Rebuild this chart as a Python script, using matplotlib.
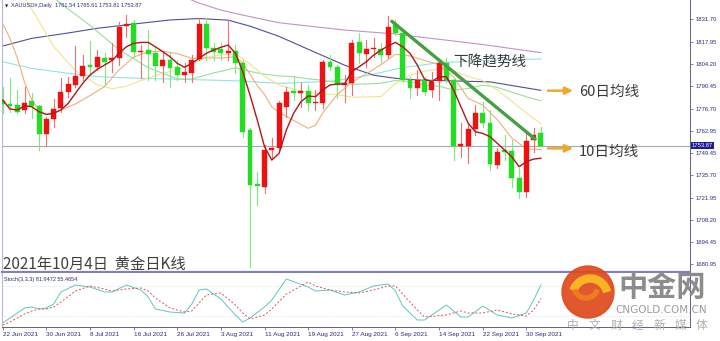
import matplotlib
matplotlib.use('Agg')
import matplotlib.pyplot as plt
import matplotlib.transforms as mtrans
from matplotlib.patches import Rectangle, Circle, Wedge

plt.rcParams['font.family'] = ['Noto Sans CJK SC', 'DejaVu Sans']

# daily bars, 22 Jun 2021 .. 4 Oct 2021 (green = down, red = up)
opens = [1781.4, 1779.0, 1779.0, 1775.9, 1781.2, 1778.4, 1761.1, 1770.2, 1776.9, 1787.2,
         1791.3, 1797.0, 1803.6, 1802.5, 1808.1, 1806.7, 1807.7, 1827.8, 1829.2, 1811.4,
         1812.8, 1810.8, 1803.0, 1806.7, 1802.5, 1797.4, 1798.8, 1807.1, 1828.8, 1813.9,
         1813.2, 1810.8, 1812.2, 1804.6, 1763.6, 1730.2, 1728.7, 1751.3, 1752.3, 1777.9,
         1787.6, 1786.2, 1787.6, 1780.0, 1780.4, 1805.6, 1802.5, 1791.3, 1792.3, 1817.9,
         1810.4, 1813.2, 1813.4, 1809.7, 1828.2, 1823.5, 1794.4, 1789.2, 1794.4, 1788.2,
         1793.9, 1804.6, 1794.4, 1753.7, 1753.7, 1764.0, 1774.2, 1767.7, 1742.0, 1751.3,
         1750.8, 1733.8, 1725.6, 1757.4, 1761.54]
highs = [1790.2, 1795.4, 1788.2, 1790.2, 1786.2, 1779.0, 1771.8, 1782.5, 1795.4, 1796.4,
         1815.3, 1809.7, 1818.5, 1812.8, 1810.8, 1817.3, 1830.2, 1834.4, 1831.3, 1815.9,
         1825.1, 1814.9, 1810.8, 1810.8, 1806.7, 1804.6, 1809.7, 1832.3, 1832.3, 1816.9,
         1816.9, 1831.3, 1815.9, 1806.7, 1764.6, 1738.0, 1754.4, 1758.5, 1781.2, 1790.2,
         1796.4, 1792.3, 1791.3, 1788.2, 1806.7, 1809.7, 1803.6, 1797.4, 1818.9, 1823.1,
         1818.9, 1820.0, 1816.9, 1833.7, 1831.3, 1825.1, 1796.4, 1800.5, 1796.4, 1799.5,
         1806.7, 1807.7, 1795.4, 1767.7, 1767.7, 1778.9, 1781.0, 1775.9, 1752.3, 1760.5,
         1757.4, 1740.0, 1762.5, 1764.6, 1765.61]
lows = [1773.9, 1774.8, 1773.9, 1773.9, 1770.8, 1751.3, 1753.7, 1765.6, 1774.8, 1784.1,
        1790.2, 1794.4, 1797.4, 1800.5, 1791.3, 1799.5, 1803.6, 1821.0, 1808.7, 1795.4,
        1794.4, 1794.4, 1793.3, 1790.2, 1794.4, 1793.3, 1793.3, 1806.7, 1806.7, 1806.7,
        1806.7, 1806.7, 1798.5, 1759.5, 1679.5, 1717.4, 1724.6, 1746.2, 1750.5, 1771.8,
        1782.0, 1778.0, 1775.9, 1775.9, 1776.9, 1800.5, 1783.1, 1781.0, 1785.1, 1804.6,
        1802.5, 1808.7, 1805.6, 1807.7, 1822.0, 1793.3, 1783.1, 1785.1, 1785.1, 1784.1,
        1782.0, 1793.3, 1745.1, 1747.1, 1743.0, 1760.5, 1765.6, 1739.0, 1740.4, 1745.1,
        1728.7, 1721.5, 1722.5, 1750.2, 1753.81]
closes = [1779.6, 1778.4, 1774.8, 1780.4, 1778.4, 1761.1, 1770.2, 1776.3, 1787.2, 1791.9,
          1796.8, 1803.1, 1802.5, 1808.3, 1805.6, 1807.5, 1827.2, 1828.8, 1811.8, 1812.2,
          1810.2, 1803.0, 1806.7, 1801.5, 1797.4, 1799.1, 1806.7, 1828.8, 1813.9, 1811.5,
          1810.8, 1812.2, 1804.6, 1762.5, 1729.7, 1729.1, 1751.3, 1752.4, 1780.0, 1787.2,
          1786.2, 1787.6, 1780.4, 1781.0, 1805.6, 1802.5, 1791.3, 1792.7, 1816.9, 1810.8,
          1813.4, 1814.2, 1809.7, 1827.2, 1823.5, 1794.4, 1789.2, 1794.4, 1787.2, 1793.3,
          1804.6, 1794.4, 1753.7, 1754.7, 1764.0, 1774.2, 1768.1, 1742.7, 1750.2, 1750.3,
          1733.8, 1725.6, 1756.8, 1760.5, 1753.87]

date_labels = ['22 Jun 2021', '30 Jun 2021', '8 Jul 2021', '16 Jul 2021', '26 Jul 2021',
               '3 Aug 2021', '11 Aug 2021', '19 Aug 2021', '27 Aug 2021', '6 Sep 2021',
               '14 Sep 2021', '22 Sep 2021', '30 Sep 2021']
price_ticks = [1831.70, 1817.95, 1804.20, 1790.45, 1776.70, 1762.95, 1749.45,
               1735.70, 1721.95, 1708.20, 1694.45, 1680.95]

# moving averages
ma5 = [1782.0, 1776.5, 1775.9, 1778.5, 1777.9, 1774.8, 1773.2, 1773.9, 1775.9, 1780.0,
       1786.2, 1792.3, 1797.4, 1800.9, 1803.6, 1806.2, 1810.8, 1814.8, 1816.9, 1817.5,
       1817.5, 1814.8, 1811.8, 1808.7, 1804.6, 1802.2, 1804.6, 1807.7, 1810.8, 1812.8,
       1814.5, 1815.9, 1810.8, 1799.5, 1785.1, 1769.7, 1753.3, 1745.1, 1749.2, 1763.6,
       1773.9, 1781.0, 1784.5, 1784.1, 1788.2, 1791.3, 1791.9, 1791.9, 1799.5, 1802.5,
       1805.6, 1809.7, 1812.8, 1815.3, 1817.5, 1814.8, 1810.8, 1803.6, 1794.8, 1793.3,
       1796.4, 1796.4, 1788.2, 1777.9, 1767.7, 1762.5, 1761.5, 1759.5, 1755.4, 1751.3,
       1747.1, 1741.0, 1744.1, 1745.7, 1746.2]
ma10_x = [0, 1, 2, 3, 4, 5, 6, 7, 8, 9, 10, 12, 14, 16, 18, 20, 22, 24, 26, 28, 30, 32, 33,
          34, 35, 36, 37, 38, 39, 40, 42, 43, 44, 46, 48, 50, 52, 54, 56, 58, 60, 62, 64,
          66, 68, 70, 72, 74]
ma10_y = [1829.0, 1820.0, 1808.0, 1793.0, 1782.0, 1776.0, 1773.0, 1774.0, 1776.0, 1777.8,
          1779.6, 1784.8, 1790.3, 1800.6, 1808.4, 1811.7, 1812.1, 1810.6, 1807.7, 1808.0,
          1807.9, 1808.7, 1804.8, 1798.0, 1791.0, 1785.4, 1777.8, 1774.4, 1772.0, 1769.5,
          1764.6, 1766.5, 1774.1, 1785.4, 1793.1, 1798.2, 1803.8, 1810.2, 1809.2, 1806.4,
          1803.8, 1796.2, 1783.0, 1778.9, 1770.0, 1758.6, 1752.0, 1751.6]
ma20_x = [0, 2, 4, 7, 10, 13, 15, 17, 19, 20, 22, 24, 26, 28, 30, 32, 34, 36, 38, 40, 42,
          44, 46, 48, 50, 52, 54, 56, 58, 60, 62, 64, 66, 68, 70, 72, 74]
ma20_y = [1862.0, 1852.0, 1838.0, 1815.0, 1800.0, 1791.5, 1789.0, 1790.5, 1794.1, 1795.6,
          1798.5, 1800.5, 1804.2, 1808.2, 1809.8, 1810.4, 1804.3, 1796.6, 1791.2, 1788.7,
          1786.6, 1786.0, 1785.4, 1783.8, 1783.9, 1784.2, 1792.2, 1797.3, 1799.8, 1801.0,
          1800.0, 1796.6, 1794.0, 1788.2, 1781.2, 1774.1, 1767.3]
ma30_x = [0, 5, 9, 12, 16, 20, 24, 26, 29, 30, 32, 34, 36, 38, 40, 42, 44, 46, 48, 50, 52,
          54, 56, 58, 60, 62, 64, 66, 68, 70, 72, 74]
ma30_y = [1868.0, 1852.0, 1838.0, 1828.0, 1813.0, 1802.0, 1795.0, 1795.0, 1798.7, 1799.7,
          1801.9, 1799.6, 1797.9, 1796.9, 1796.4, 1795.1, 1794.2, 1792.9, 1791.8, 1791.9,
          1792.4, 1794.1, 1793.4, 1791.3, 1790.5, 1788.2, 1789.1, 1791.2, 1789.8, 1786.9,
          1784.0, 1781.6]
ma60_x = [0, 4, 9, 13, 19, 23, 27, 31, 34, 38, 43, 47, 51, 54, 57, 67, 74]
ma60_y = [1815.3, 1820.0, 1823.3, 1826.2, 1829.3, 1831.3, 1832.2, 1831.2, 1827.5, 1821.2,
          1811.3, 1803.5, 1797.3, 1795.4, 1794.4, 1793.2, 1788.0]
cyan_x = [0, 4, 9, 13, 19, 28, 33, 38, 45, 50, 55, 60, 67, 74]
cyan_y = [1805.6, 1801.5, 1798.5, 1796.4, 1795.4, 1794.4, 1793.7, 1792.3, 1793.5, 1797.0,
          1802.0, 1805.0, 1806.5, 1807.3]
purple_x = [20, 25, 27, 30, 33, 38, 47, 54, 57, 66, 74]
purple_y = [1852.0, 1845.4, 1841.7, 1837.4, 1834.3, 1829.6, 1825.1, 1822.7, 1821.0, 1816.2,
            1811.2]

# stochastic (3,3,3)
stoch_x = [0, 1, 3, 4, 5, 6, 7, 8, 10, 12, 14, 15, 17, 19, 20, 21, 23, 25, 26, 27, 28, 30,
           32, 33, 34, 36, 37, 39, 42, 43, 45, 47, 49, 51, 53, 54, 55, 57, 58, 61, 63, 64,
           66, 68, 70, 72, 73, 74]
stoch_k = [6, 16, 36, 38, 34, 36, 44, 68, 82, 78, 68, 68, 82, 72, 58, 34, 28, 26, 44, 72,
           74, 54, 22, 8, 16, 38, 52, 94, 78, 70, 72, 62, 68, 80, 84, 70, 40, 12, 12, 42,
           18, 18, 40, 22, 16, 26, 52, 82]
stoch_d = [2, 8, 24, 30, 34, 34, 38, 48, 70, 80, 74, 70, 74, 76, 70, 56, 36, 28, 30, 46,
           62, 66, 42, 26, 14, 22, 34, 64, 88, 80, 72, 68, 66, 72, 80, 80, 64, 32, 18, 22,
           30, 26, 26, 32, 24, 20, 32, 55]

W, H = 720, 341
fig = plt.figure(figsize=(W / 100, H / 100), dpi=100)
fig.patch.set_facecolor('white')

ax = fig.add_axes([2 / W, 1 - 272 / H, 688 / W, 272 / H])
ax2 = fig.add_axes([2 / W, 1 - 327 / H, 688 / W, 54 / H])
XMIN, XMAX = -0.1, 94.5
navy = '#2b2b80'

# --- candles
up_c, dn_c = '#ee1111', '#22dd22'
for i in range(len(opens)):
    o, h, l, c = opens[i], highs[i], lows[i], closes[i]
    col = up_c if c >= o else dn_c
    wick = '#f07070' if c >= o else '#80e880'
    ax.plot([i, i], [l, h], color=wick, lw=0.8, zorder=3)
    lo = min(o, c)
    hgt = max(abs(c - o), 1.0)
    ax.add_patch(Rectangle((i - 0.34, lo), 0.68, hgt, facecolor=col,
                           edgecolor=col, lw=0.3, zorder=4))

# --- moving averages
ax.plot(purple_x, purple_y, color='#c890c8', lw=0.8, zorder=2)
ax.plot(cyan_x, cyan_y, color='#90e4e4', lw=0.8, zorder=2)
ax.plot(ma60_x, ma60_y, color='#50509a', lw=0.8, zorder=2)
ax.plot(ma30_x, ma30_y, color='#98e098', lw=0.8, zorder=2)
ax.plot(ma20_x, ma20_y, color='#f2e48c', lw=0.8, zorder=2)
ax.plot(ma10_x, ma10_y, color='#f0b078', lw=0.8, zorder=2)
ax.plot(range(len(ma5)), ma5, color='#b01818', lw=1.0, zorder=5)

# current price line
ax.axhline(closes[-1], color='#a8a8a8', lw=0.8, zorder=1)

# down trend line
ax.plot([53.5, 73.2], [1830.5, 1758.0], color='#44a040', lw=2.4,
        solid_capstyle='round', zorder=6)
ax.text(67.0, 1805.0, '下降趋势线', fontsize=10.5, color='#3a3a3a',
        ha='center', va='center', zorder=7)

# arrows + labels
for yv, txt, ty in [(1787.8, '60日均线', 1787.3), (1752.3, '10日均线', 1750.3)]:
    ax.annotate('', xy=(78.8, yv), xytext=(74.6, yv),
                arrowprops=dict(arrowstyle='-|>,head_length=0.45,head_width=0.22',
                                color='#f3a52a', lw=1.8), zorder=7)
    ax.text(79.2, ty, txt, fontsize=10.5, color='#3a3a3a', ha='left',
            va='center', zorder=7)

ax.text(0.0, 1680.6, '2021年10月4日  黄金日K线', fontsize=11, color='#404040',
        ha='left', va='center', zorder=7)

ax.set_xlim(XMIN, XMAX)
ax.set_ylim(1676.2, 1843.6)
ax.set_xticks([])
ax.yaxis.tick_right()
ax.set_yticks(price_ticks)
ax.set_yticklabels(['%.2f' % p for p in price_ticks], fontsize=4.2,
                   color=navy, family='Liberation Sans')
ax.tick_params(axis='y', length=2.5, width=0.5, color='#505080', pad=1.5)
for s in ['top']:
    ax.spines[s].set_visible(False)
ax.spines['left'].set_color('#b8b8d8')
ax.spines['right'].set_color('#606080')
ax.spines['right'].set_linewidth(0.7)
ax.spines['bottom'].set_color('#8080c0')
ax.spines['bottom'].set_linewidth(1.6)

# price tag
tr = mtrans.blended_transform_factory(ax.transAxes, ax.transData)
ax.text(1.002, closes[-1], '1753.87', transform=tr, fontsize=4.2, color='white',
        family='Liberation Sans', ha='left', va='center', zorder=8,
        bbox=dict(boxstyle='square,pad=0.15', fc='#1c1c9a', ec='none'), clip_on=False)

# header
ax.text(0.004, 0.985, '▼', transform=ax.transAxes, fontsize=3, color='#202040',
        family='DejaVu Sans', va='top', ha='left')
ax.text(0.013, 0.99, 'XAUUSD#,Daily  1761.54 1765.61 1753.81 1753.87',
        transform=ax.transAxes, fontsize=4.1, color=navy, family='Liberation Sans',
        va='top', ha='left')

# --- stochastic panel
ax2.axhline(20, color='#cccccc', lw=0.5, ls=(0, (1, 2)))
ax2.axhline(80, color='#cccccc', lw=0.5, ls=(0, (1, 2)))
ax2.plot(stoch_x, stoch_k, color='#5cc8c0', lw=0.7)
ax2.plot(stoch_x, stoch_d, color='#e05050', lw=0.7, ls=(0, (2, 2)))
ax2.set_xlim(XMIN, XMAX)
ax2.set_ylim(-2, 106)
ax2.set_yticks([])
ax2.set_xticks(list(range(0, 73, 6)))
ax2.set_xticklabels(date_labels, fontsize=4.6, color=navy, family='Liberation Sans',
                    ha='left')
ax2.tick_params(axis='x', length=2, width=0.5, color='#505080', pad=1.5)
ax2.spines['top'].set_visible(False)
ax2.spines['left'].set_color('#b8b8d8')
ax2.spines['right'].set_color('#606080')
ax2.spines['right'].set_linewidth(0.7)
ax2.spines['bottom'].set_color('#606080')
ax2.spines['bottom'].set_linewidth(0.7)
ax2.text(0.003, 0.93, 'Stoch(3,3,3) 81.9472 55.4654', transform=ax2.transAxes,
         fontsize=4.0, color=navy, family='Liberation Sans', va='top', ha='left')

# --- watermark logo
ov = fig.add_axes([0, 0, 1, 1])
ov.set_xlim(0, W)
ov.set_ylim(H, 0)
ov.axis('off')
ov.add_patch(Circle((588, 292), 26, color='#e04a1c', alpha=0.92))
ov.add_patch(Wedge((590, 296), 21, 200, 345, width=7, color='#f8b423'))
ov.add_patch(Wedge((586, 286), 14, 20, 160, width=4, color='#f27a20'))
ov.text(662, 287, '中金网', fontsize=21, color='#8c8c8c', fontweight='bold',
        ha='center', va='center')
ov.text(661, 310, 'CNGOLD.COM.CN', fontsize=7.5, color='#9c9c9c', family='DejaVu Sans',
        ha='center', va='center')
for k, ch in enumerate('中文财经新媒体'):
    ov.text(573 + 21.5 * k, 325, ch, fontsize=8.5, color='#b0b0b0',
            ha='center', va='center')

fig.savefig('out.png', dpi=100)
